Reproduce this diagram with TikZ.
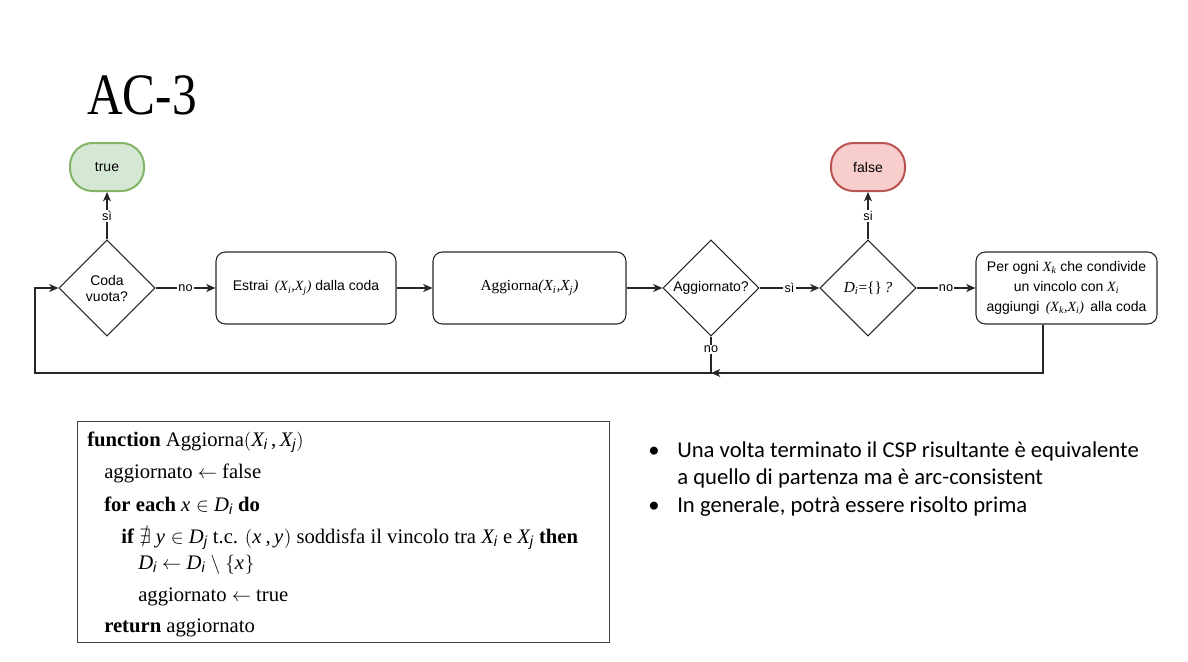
\documentclass[tikz,border=0pt]{standalone}
\usepackage{amssymb}
\usepackage{fontspec}
\setmainfont{Liberation Sans}
\newfontfamily\tms{Liberation Serif}
\newfontfamily\calfont{Carlito}
\usetikzlibrary{shapes.geometric,arrows.meta}
\newcommand\mv[2]{{\tms\itshape #1\textsubscript{#2}}}
\newcommand\pv[2]{{\tms\itshape #1}\ensuremath{_{\mathit{#2}}}}
\begin{document}
\begin{tikzpicture}[x=0.75pt,y=-0.75pt,
  every node/.style={font=\fontsize{10.5}{12}\selectfont},
  flow/.style={line width=0.8pt, draw=black!85},
  arr/.style={flow, -{Stealth[length=7pt,width=6pt,inset=2pt]}},
  term/.style={draw, line width=1.5pt, minimum width=55.5pt, minimum height=36pt, rounded corners=17pt},
  dec/.style={diamond, draw=black!85, line width=0.8pt, aspect=1, inner sep=0pt, minimum size=72pt, align=center},
  proc/.style={draw=black!85, line width=0.8pt, rounded corners=7pt, minimum height=54pt, align=center},
  lab/.style={fill=white, inner sep=1pt, font=\fontsize{9.5}{11}\selectfont},
  code/.style={anchor=base west, inner sep=0pt, font=\tms\fontsize{15.5}{17}\selectfont},
  bul/.style={anchor=base west, inner sep=0pt, font=\calfont\fontsize{17}{20}\selectfont}
]
\useasboundingbox (0,0) rectangle (1188,661);
% title
\node (title) [inner sep=0pt, xscale=0.84, font=\tms\fontsize{44}{50}\selectfont] at (142,95) {AC-3};
% terminals
\node (t) [term, draw={rgb,255:red,130;green,179;blue,102}, fill={rgb,255:red,213;green,232;blue,212}] at (107,167) {true};
\node (f) [term, draw={rgb,255:red,184;green,84;blue,80}, fill={rgb,255:red,248;green,206;blue,204}] at (868,167) {false};
% decisions and processes
\node (d1) [dec] at (107,288) {Coda\\vuota?};
\node (p1) [proc, minimum width=135pt] at (306,288) {Estrai \,{\tms\itshape(}\mv{X}{i}{\tms\itshape,}\mv{X}{j}{\tms\itshape)} dalla coda};
\node (p2) [proc, minimum width=144.75pt] at (529.5,288) {{\tms\fontsize{11.5}{13}\selectfont Aggiorna{\itshape(X\textsubscript{i},X\textsubscript{j})}}};
\node (d2) [dec] at (711,288) {Aggiornato?};
\node (d3) [dec] at (868,288) {{\fontsize{11.5}{13}\selectfont\mv{D}{i}{\tms=\{\}}{\tms\itshape\,?}}};
\node (p3) [proc, minimum width=135.75pt, font=\fontsize{10.5}{15}\selectfont] at (1066.5,288) {Per ogni \mv{X}{k} che condivide\\un vincolo con \mv{X}{i}\\aggiungi \,{\tms\itshape(}\mv{X}{k}{\tms\itshape,}\mv{X}{i}{\tms\itshape)}\, alla coda};
% connectors
\draw[arr] (d1) -- node[lab] {no} (p1);
\draw[arr] (p1) -- (p2);
\draw[arr] (p2) -- (d2);
\draw[arr] (d2) -- node[lab] {sì} (d3);
\draw[arr] (d3) -- node[lab] {no} (p3);
\draw[arr] (d1) -- node[lab] {sì} (t);
\draw[arr] (d3) -- node[lab] {si} (f);
\coordinate (j) at (711,373);
\coordinate (b) at (1043,373);
\coordinate (l) at (35,373);
\draw[arr] (d2.south) -- node[lab, pos=0.35] {no} (j) -- (l) |- (d1.west);
\draw[arr] (b |- p3.south) -- (b) -- (j);
% pseudocode box
\node (box) [draw=black!75, line width=0.75pt, minimum width=399pt, minimum height=165.75pt] at (343,531.5) {};
\node (c1) [code] at (87,446) {\textbf{function} Aggiorna$($\pv{X}{i}\,,\,\pv{X}{j}$)$};
\node (c2) [code] at (104,478) {aggiornato $\leftarrow$ false};
\node (c3) [code] at (104,511) {\textbf{for each} \pv{x}{} $\in$ \pv{D}{i} \textbf{do}};
\node (c4) [code] at (121,543) {\textbf{if} $\nexists$ \pv{y}{} $\in$ \pv{D}{j} t.c. $($\pv{x}{}\,,\,\pv{y}{}$)$ soddisfa il vincolo tra \pv{X}{i} e \pv{X}{j} \textbf{then}};
\node (c5) [code] at (138,569) {\pv{D}{i} $\leftarrow$ \pv{D}{i} $\setminus$ $\{$\pv{x}{}$\}$};
\node (c6) [code] at (138,601) {aggiornato $\leftarrow$ true};
\node (c7) [code] at (104,632) {\textbf{return} aggiornato};
% bullets
\node (b1) [bul] at (648,457) {•};
\node (t1) [bul] at (677,457) {Una volta terminato il CSP risultante è equivalente};
\node (t2) [bul] at (677,484) {a quello di partenza ma è arc-consistent};
\node (b2) [bul] at (648,512) {•};
\node (t3) [bul] at (677,512) {In generale, potrà essere risolto prima};
\end{tikzpicture}
\end{document}
